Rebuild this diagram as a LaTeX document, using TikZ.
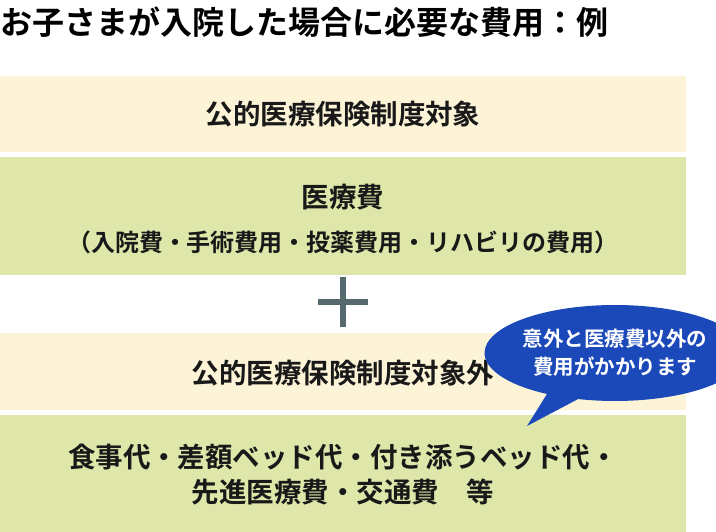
\documentclass[tikz,border=0pt]{standalone}
\usepackage{fontspec}
\setmainfont{Noto Sans CJK JP}[BoldFont={Noto Sans CJK JP Bold}]
\usetikzlibrary{shapes.callouts}
\definecolor{cream}{HTML}{FDF4D8}
\definecolor{lgreen}{HTML}{DEE6A9}
\definecolor{bblue}{HTML}{1C49B9}
\definecolor{plusc}{HTML}{56696E}
\tikzset{band/.style={inner sep=0pt,anchor=north west},
 btxt/.style={font=\bfseries\fontsize{27.5}{35}\selectfont,align=center,text=black!90,inner sep=0pt}}
\begin{document}
\begin{tikzpicture}[x=1pt,y=-1pt]
\useasboundingbox (0,0) rectangle (716,532);
\node[anchor=west,font=\bfseries\fontsize{32}{36}\selectfont,inner sep=0pt] (title) at (0,22) {お子さまが入院した場合に必要な費用：例};
\fill[cream] (0,76) rectangle (686,152);
\node[btxt] (b1) at (343,114) {公的医療保険制度対象};
\fill[lgreen] (0,157) rectangle (686,275);
\node[btxt] (b2) at (343,219) {医療費\\[9pt]{\fontsize{24}{28}\selectfont（入院費・手術費用・投薬費用・リハビリの費用）}};
\fill[plusc] (318,299) rectangle (368,305);
\fill[plusc] (340,277) rectangle (346,327);
\fill[cream] (0,333) rectangle (686,410);
\node[btxt] (b3) at (343,373) {公的医療保険制度対象外};
\fill[lgreen] (0,415) rectangle (686,532);
\node[btxt] (b4) at (343,475) {食事代・差額ベッド代・付き添うベッド代・\\先進医療費・交通費\quad 等};
\node[ellipse callout,fill=bblue,text=white,minimum width=200pt,minimum height=96pt,inner sep=0pt,
 callout absolute pointer={(527,426)},font=\bfseries\fontsize{20.5}{28}\selectfont,align=center] (bub) at (615,353) {意外と医療費以外の\\費用がかかります};
\end{tikzpicture}
\end{document}
